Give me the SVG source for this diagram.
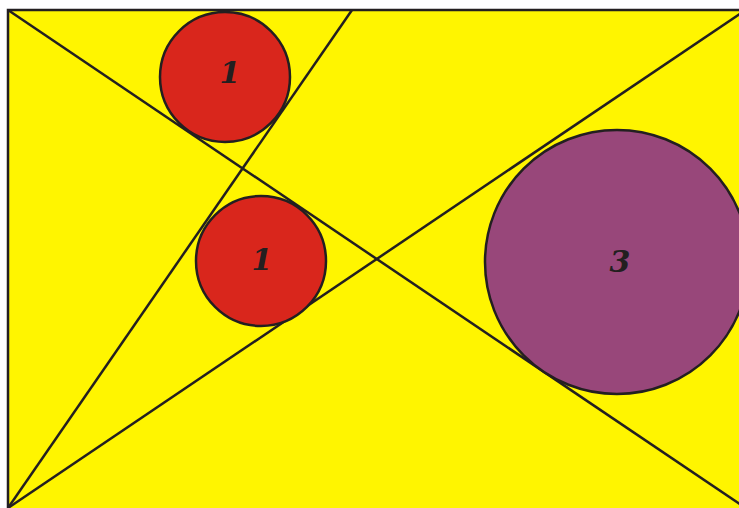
<svg xmlns="http://www.w3.org/2000/svg" width="739" height="508" viewBox="0 0 739 508">
<style>
.ln{stroke:#231f20;stroke-width:2.5;fill:none}
.c{stroke:#231f20;stroke-width:2.5}
.t{font-family:"DejaVu Serif",serif;font-style:italic;font-weight:bold;font-size:30px;fill:#231f20;text-anchor:middle}
</style>
<rect width="739" height="508" fill="#ffffff"/>
<rect x="8" y="10" width="745" height="505" style="fill:#fff500;stroke:#231f20;stroke-width:2.5"/>
<g id="connectors">
<line class="ln" x1="8" y1="10" x2="747" y2="509"/>
<line class="ln" x1="8" y1="508" x2="747" y2="9"/>
<line class="ln" x1="8" y1="508" x2="352" y2="10"/>
</g>
<g id="c1"><circle class="c" cx="225" cy="77" r="65" fill="#d9261c"/><text class="t" x="230" y="83">1</text></g>
<g id="c2"><circle class="c" cx="261" cy="261" r="65" fill="#d9261c"/><text class="t" x="262" y="270">1</text></g>
<g id="c3"><circle class="c" cx="617" cy="262" r="132" fill="#98477a"/><text class="t" x="620" y="272">3</text></g>
</svg>
